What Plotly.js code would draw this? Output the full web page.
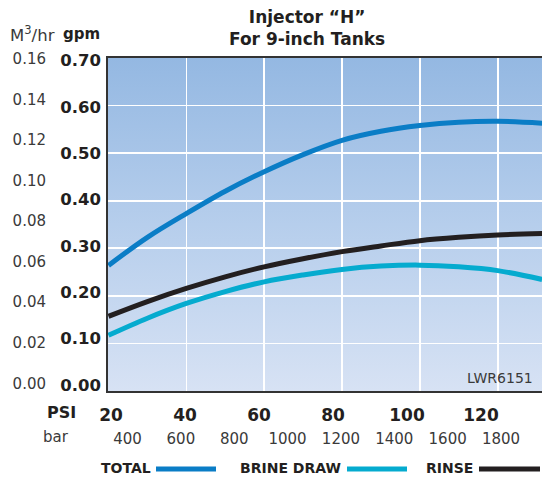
<!DOCTYPE html>
<html>
<head>
<meta charset="utf-8">
<script src="https://cdn.plot.ly/plotly-3.0.1.min.js"></script>
<style>html,body{margin:0;padding:0;background:#fff;}#chart{width:542px;height:478px;}</style>
</head>
<body>
<div id="chart"></div>
<script>
// ---- data ----
const psi = [20, 30, 40, 50, 60, 70, 80, 90, 100, 110, 120, 131.4];
const totalGpm = [0.264, 0.323, 0.373, 0.420, 0.461, 0.497, 0.527, 0.546, 0.558, 0.565, 0.567, 0.563];
const brineGpm = [0.117, 0.153, 0.184, 0.209, 0.2295, 0.244, 0.2556, 0.2625, 0.2646, 0.261, 0.253, 0.2345];
const rinseGpm = [0.157, 0.188, 0.2156, 0.240, 0.261, 0.278, 0.293, 0.305, 0.316, 0.323, 0.328, 0.331];
const seriesNames = ['TOTAL', 'BRINE DRAW', 'RINSE'];
const seriesColors = ['#0a7dc6', '#05abcf', '#231f20'];
const psiTicks = [20, 40, 60, 80, 100, 120];
const barTicks = [400, 600, 800, 1000, 1200, 1400, 1600, 1800];
const gpmTicks = [0, 0.1, 0.2, 0.3, 0.4, 0.5, 0.6, 0.7];
const m3Ticks = [0, 0.02, 0.04, 0.06, 0.08, 0.10, 0.12, 0.14, 0.16];

const W = 542, H = 478;
const px = v => v / W, py = v => 1 - v / H;
const xDom = [108 / W, 1];
const yDom = [87 / H, 420 / H];
const xRange = [19.88, 131.38];
const yRange = [0, 0.7];

const traces = [totalGpm, brineGpm, rinseGpm].map((ys, i) => ({
  x: psi, y: ys, type: 'scatter', mode: 'lines', name: seriesNames[i],
  line: {color: seriesColors[i], width: 5, shape: 'spline', smoothing: 1},
  xaxis: 'x', yaxis: 'y', showlegend: false, hoverinfo: 'skip'
}));
// empty helper traces so the label-only axes get drawn
[['x2', 'y'], ['x3', 'y'], ['x', 'y2'], ['x', 'y3']].forEach(([xa, ya]) => traces.push({
  x: [], y: [], type: 'scatter', mode: 'lines', xaxis: xa, yaxis: ya, showlegend: false, hoverinfo: 'skip'
}));

const grad = 'data:image/svg+xml;utf8,' + encodeURIComponent(
  '<svg xmlns="http://www.w3.org/2000/svg" width="100" height="100" preserveAspectRatio="none">' +
  '<defs><linearGradient id="g" x1="0" y1="0" x2="0" y2="1">' +
  '<stop offset="0" stop-color="#94b8e2"/><stop offset="0.5" stop-color="#b6ceec"/><stop offset="1" stop-color="#d7e2f4"/>' +
  '</linearGradient></defs><rect width="100" height="100" fill="url(#g)"/></svg>');

const fmt2 = v => v.toFixed(2);
const boldFont = {family: 'DejaVu Sans', size: 16.5, color: '#231f20', weight: 'bold'};
const regFont = {family: 'DejaVu Sans', size: 15, color: '#3a3a3a'};

const legendLines = [[156, 216], [347, 407], [479, 540]];
const legendTextRight = [153, 343, 475];

const annotations = [
  {text: '<b>Injector “H”<br>For 9-inch Tanks</b>', x: px(307), y: py(28), xref: 'paper', yref: 'paper', xanchor: 'center', yanchor: 'middle', showarrow: false,
   font: {family: 'DejaVu Sans', size: 17, color: '#231f20'}},
  {text: 'M<sup>3</sup>/hr', x: px(8), y: py(34), xref: 'paper', yref: 'paper', xanchor: 'left', yanchor: 'middle', showarrow: false, font: {family: 'DejaVu Sans', size: 16.5, color: '#3a3a3a'}},
  {text: '<b>gpm</b>', x: px(102), y: py(34), xref: 'paper', yref: 'paper', xanchor: 'right', yanchor: 'middle', showarrow: false, font: {family: 'DejaVu Sans', size: 15, color: '#231f20'}},
  {text: '<b>PSI</b>', x: px(61), y: py(412), xref: 'paper', yref: 'paper', xanchor: 'center', yanchor: 'middle', showarrow: false, font: {family: 'DejaVu Sans', size: 16, color: '#231f20'}},
  {text: 'bar', x: px(56), y: py(437), xref: 'paper', yref: 'paper', xanchor: 'center', yanchor: 'middle', showarrow: false, font: regFont},
  {text: 'LWR6151', x: px(535), y: py(378), xref: 'paper', yref: 'paper', xanchor: 'right', yanchor: 'middle', showarrow: false, font: {family: 'DejaVu Sans', size: 14, color: '#3a3a3a'}}
];
seriesNames.forEach((n, i) => annotations.push({
  text: '<b>' + n + '</b>', x: px(legendTextRight[i]), y: py(468), xref: 'paper', yref: 'paper',
  xanchor: 'right', yanchor: 'middle', showarrow: false, font: {family: 'DejaVu Sans', size: 14, color: '#231f20'}
}));

const shapes = seriesNames.map((n, i) => ({
  type: 'line', xref: 'paper', yref: 'paper', x0: px(legendLines[i][0]), x1: px(legendLines[i][1]),
  y0: py(469), y1: py(469), line: {color: seriesColors[i], width: 5}
}));

const layout = {
  width: W, height: H,
  margin: {l: 0, r: 0, t: 0, b: 0},
  paper_bgcolor: '#ffffff', plot_bgcolor: '#b6ceec',
  showlegend: false,
  xaxis: {domain: xDom, range: xRange, tickvals: psiTicks, showticklabels: false, showgrid: true, gridcolor: '#ffffff', gridwidth: 1.6,
          zeroline: false, showline: true, linecolor: '#333333', linewidth: 1.6, mirror: true, ticks: '', anchor: 'y'},
  xaxis2: {domain: xDom, overlaying: 'x', anchor: 'y', side: 'bottom', range: [19.19, 136.49], tickvals: psiTicks, ticktext: psiTicks.map(String),
           showgrid: false, zeroline: false, showline: false, ticks: '', ticklabelstandoff: 12, tickfont: {family: 'DejaVu Sans', size: 17, color: '#231f20', weight: 'bold'}},
  xaxis3: {domain: xDom, overlaying: 'x', anchor: 'free', position: py(428), side: 'bottom', range: [326.9, 1953.7], tickvals: barTicks, ticktext: barTicks.map(String),
           showgrid: false, zeroline: false, showline: false, ticks: '', ticklabelstandoff: 0, tickfont: regFont},
  yaxis: {domain: yDom, range: yRange, tickvals: gpmTicks, showticklabels: false, showgrid: true, gridcolor: '#ffffff', gridwidth: 1.6,
          zeroline: false, showline: true, linecolor: '#333333', linewidth: 1.6, ticks: '', anchor: 'x'},
  yaxis3: {domain: yDom, overlaying: 'y', anchor: 'x', side: 'left', range: [-0.01295, 0.70583], tickvals: gpmTicks, ticktext: gpmTicks.map(fmt2),
           showgrid: false, zeroline: false, showline: false, ticks: '', ticklabelstandoff: 6, tickfont: boldFont},
  yaxis2: {domain: yDom, overlaying: 'y', anchor: 'free', position: px(46), side: 'left', range: [-0.0038, 0.1605], tickvals: m3Ticks, ticktext: m3Ticks.map(fmt2),
           showgrid: false, zeroline: false, showline: false, ticks: '', ticklabelstandoff: 0, tickfont: regFont},
  images: [{source: grad, xref: 'x', yref: 'y', x: xRange[0], y: yRange[1], sizex: xRange[1] - xRange[0], sizey: yRange[1] - yRange[0],
            xanchor: 'left', yanchor: 'top', sizing: 'stretch', layer: 'below'}],
  annotations: annotations,
  shapes: shapes
};

Plotly.newPlot('chart', traces, layout, {staticPlot: true, displayModeBar: false});
</script>
</body>
</html>
